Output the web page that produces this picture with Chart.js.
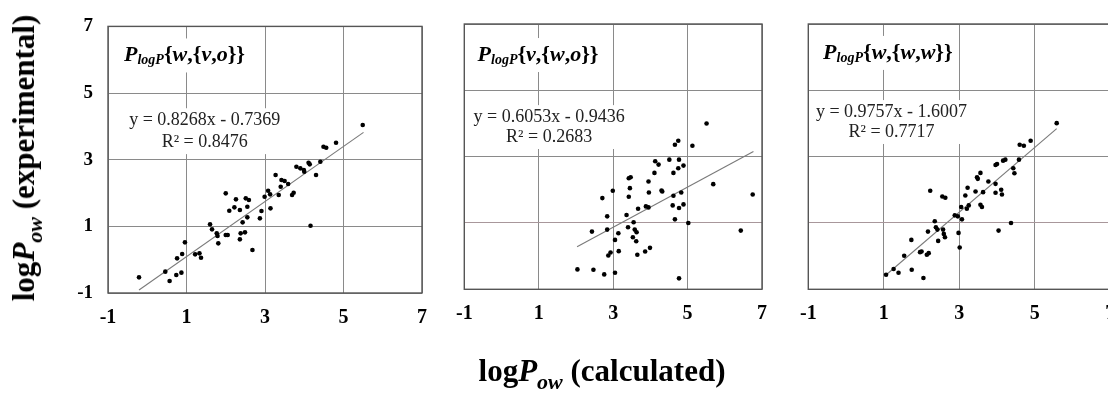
<!DOCTYPE html>
<html><head><meta charset="utf-8">
<script src="https://cdn.jsdelivr.net/npm/chart.js@4.4.1/dist/chart.umd.min.js"></script>
<style>
html,body{margin:0;padding:0;background:#fff;overflow:hidden;}
#wrap{position:relative;width:1108px;height:394px;overflow:hidden;background:#fff;}
canvas{position:absolute;top:0;}
.ttl{position:absolute;font-family:"Liberation Serif","Times New Roman",serif;font-weight:bold;font-size:31px;line-height:31px;color:#000;white-space:nowrap;}
.ttl .sb{font-size:22px;position:relative;top:8px;font-style:italic;}
</style></head><body>
<div id="wrap">
<canvas id="c1"></canvas><canvas id="c2"></canvas><canvas id="c3"></canvas>
<div class="ttl" id="ytitle">log<i>P</i><span class="sb">ow</span> (experimental)</div>
<div class="ttl" id="xtitle">log<i>P</i><span class="sb">ow</span> (calculated)</div>
</div>
<script>
// ---------- data ----------
const xTicks = [-1, 1, 3, 5, 7];
const yTicks = [-1, 1, 3, 5, 7];

const titleVars1 = ['w', 'v', 'o'];
const titleVars2 = ['v', 'w', 'o'];
const titleVars3 = ['w', 'w', 'w'];

const eqText = ['y = 0.8268x - 0.7369', 'y = 0.6053x - 0.9436', 'y = 0.9757x - 1.6007'];
const r2Text = ['R² = 0.8476', 'R² = 0.2683', 'R² = 0.7717'];
const slopes = [0.8268, 0.6053, 0.9757];
const intercepts = [-0.7369, -0.9436, -1.6007];
const trendStart = [-0.21, 2.03, 1.05];
const trendEnd = [5.51, 6.77, 5.58];

const p1x = [-0.21,0.46,0.57,0.74,0.87,0.76,0.89,0.96,1.22,1.33,1.37,1.60,1.65,1.77,1.79,1.81,2.00,2.05,2.00,2.09,2.22,2.26,2.36,2.43,2.36,2.38,2.49,2.51,2.59,2.55,2.55,2.68,2.87,2.91,2.99,3.08,3.13,3.14,3.27,3.35,3.40,3.42,3.50,3.59,3.69,3.73,3.80,3.90,3.99,4.00,4.11,4.14,4.16,4.30,4.41,4.49,4.56,4.81,5.49];
const p1y = [-0.53,-0.36,-0.64,-0.46,-0.39,0.04,0.17,0.52,0.16,0.19,0.06,1.06,0.91,0.79,0.71,0.49,0.74,0.74,1.99,1.47,1.57,1.81,1.49,1.12,0.61,0.79,0.82,1.84,1.79,1.59,1.27,0.29,1.24,1.46,1.89,2.07,1.96,1.54,2.54,1.94,2.19,2.39,2.36,2.27,1.94,2.01,2.79,2.74,2.69,2.64,2.91,2.86,1.02,2.54,2.94,3.39,3.36,3.51,4.04];

const p2x = [5.51,4.66,4.75,5.13,4.13,4.22,4.51,4.77,4.89,4.75,4.62,4.11,3.42,3.47,3.95,3.45,2.99,3.96,4.30,4.32,2.71,3.42,4.62,4.83,3.67,3.88,3.95,4.60,4.77,4.89,2.84,3.36,3.55,4.66,5.02,5.69,6.75,6.43,2.43,2.84,3.14,3.40,3.58,3.63,3.05,3.53,3.62,2.93,2.87,3.15,3.65,3.86,3.99,2.04,2.47,2.76,3.05,4.77];
const p2y = [4.00,3.36,3.48,3.33,2.86,2.76,2.91,2.91,2.73,2.65,2.51,2.51,2.35,2.38,2.25,2.05,1.97,1.92,1.98,1.95,1.75,1.79,1.82,1.92,1.43,1.50,1.47,1.53,1.45,1.56,1.20,1.24,1.02,1.11,1.00,2.17,1.86,0.77,0.74,0.80,0.69,0.87,0.80,0.72,0.49,0.57,0.45,0.11,0.02,0.15,0.04,0.14,0.25,-0.40,-0.41,-0.55,-0.50,-0.67];

const p3x = [5.58,4.89,4.60,4.71,4.58,4.22,4.16,3.96,4.00,4.43,4.46,3.56,3.47,3.49,3.77,3.96,3.22,3.43,3.63,3.16,4.11,4.13,3.96,2.23,2.55,2.63,3.05,3.20,3.25,3.56,3.60,2.88,2.96,3.07,2.35,2.38,2.42,2.57,2.17,2.59,2.62,2.44,2.98,3.01,4.04,4.37,1.73,1.96,2.00,2.14,2.19,1.54,1.26,1.39,1.74,1.06,2.05];
const p3y = [4.01,3.48,3.36,3.33,2.91,2.91,2.88,2.75,2.78,2.65,2.50,2.51,2.38,2.33,2.25,2.18,2.06,1.95,1.93,1.83,2.00,1.86,1.91,1.97,1.80,1.76,1.48,1.43,1.53,1.55,1.48,1.23,1.20,1.11,1.05,0.87,0.80,0.80,0.74,0.67,0.57,0.46,0.70,0.26,0.77,1.00,0.49,0.12,0.14,0.04,0.09,0.01,-0.39,-0.50,-0.41,-0.56,-0.66];

// ---------- helpers ----------
const SERIF = '"Liberation Serif","Times New Roman",serif';
const pts = (xs, ys) => xs.map((x, i) => ({x: x, y: ys[i]}));
const trend = i => [trendStart[i], trendEnd[i]].map(x => ({x: x, y: slopes[i] * x + intercepts[i]}));

function titleSegments(v) {
  const B = 'bold 22px ' + SERIF, BI = 'italic bold 22px ' + SERIF, S = 'italic bold 14px ' + SERIF;
  return [
    {t: 'P', f: BI, dy: 0}, {t: 'logP', f: S, dy: 5}, {t: '{', f: B, dy: 0},
    {t: v[0], f: BI, dy: 0}, {t: ',{', f: B, dy: 0}, {t: v[1], f: BI, dy: 0},
    {t: ',', f: B, dy: 0}, {t: v[2], f: BI, dy: 0}, {t: '}}', f: B, dy: 0}
  ];
}

const annotPlugin = {
  id: 'annot',
  beforeDatasetsDraw(chart, args, o) {
    const ctx = chart.ctx, a = chart.chartArea;
    const W = a.right - a.left, H = a.bottom - a.top;
    ctx.save();
    const segs = o.segs;
    let tw = 0;
    segs.forEach(s => { ctx.font = s.f; tw += ctx.measureText(s.t).width; });
    const tx = a.left + o.tx * W, ty = a.top + o.ty * H;
    ctx.fillStyle = '#fff';
    ctx.fillRect(tx - 6, ty - 17, tw + 12, 34);
    ctx.fillStyle = '#000';
    ctx.textBaseline = 'middle';
    ctx.textAlign = 'left';
    let cx = tx;
    segs.forEach(s => { ctx.font = s.f; ctx.fillText(s.t, cx, ty + s.dy); cx += ctx.measureText(s.t).width; });
    ctx.font = '18px ' + SERIF;
    const ex = a.left + o.ex * W, e1 = a.top + o.e1 * H, e2 = a.top + o.e2 * H;
    const ew = Math.max(ctx.measureText(o.eq).width, ctx.measureText(o.r2).width);
    ctx.fillStyle = '#fff';
    ctx.fillRect(ex - ew / 2 - 5, e1 - 12, ew + 10, e2 - e1 + 24);
    ctx.fillStyle = '#222';
    ctx.textAlign = 'center';
    ctx.fillText(o.eq, ex, e1);
    ctx.fillText(o.r2, ex, e2);
    ctx.restore();
  },
  afterDraw(chart) {
    const ctx = chart.ctx, a = chart.chartArea;
    ctx.save();
    ctx.strokeStyle = '#555';
    ctx.lineWidth = 1.4;
    ctx.strokeRect(a.left, a.top, a.right - a.left, a.bottom - a.top);
    ctx.restore();
  }
};

function makePanel(id, geo, data, idx, segs, showY, pinkOne) {
  const el = document.getElementById(id);
  el.width = geo.w; el.height = geo.h;
  el.style.left = geo.left + 'px';
  el.style.width = geo.w + 'px'; el.style.height = geo.h + 'px';
  new Chart(el, {
    type: 'scatter',
    data: {
      datasets: [
        {data: data, pointRadius: 2.3, pointBackgroundColor: '#000', pointBorderWidth: 0, showLine: false},
        {data: trend(idx), showLine: true, borderColor: '#7a7a7a', borderWidth: 1.1, pointRadius: 0, fill: false}
      ]
    },
    options: {
      responsive: false, animation: false, events: [],
      layout: {padding: {top: geo.top, right: geo.right, left: 0, bottom: 0}},
      plugins: {
        legend: {display: false}, tooltip: {enabled: false},
        annot: {segs: segs, eq: eqText[idx], r2: r2Text[idx], tx: geo.tx, ty: geo.ty, ex: geo.ex, e1: geo.e1, e2: geo.e2}
      },
      scales: {
        x: {
          type: 'linear', min: -1, max: 7,
          afterBuildTicks: ax => { ax.ticks = xTicks.map(v => ({value: v})); },
          afterFit: ax => { ax.height = geo.xh; },
          grid: {color: '#8a8a8a', lineWidth: 1, drawTicks: false},
          border: {display: false},
          ticks: {color: '#000', padding: 13, font: {family: SERIF, size: 20, weight: 'bold'}, maxRotation: 0}
        },
        y: {
          type: 'linear', min: -1, max: 7,
          afterBuildTicks: ax => { ax.ticks = yTicks.map(v => ({value: v})); },
          afterFit: ax => { ax.width = geo.yw; },
          grid: {color: c => (pinkOne && c.tick && c.tick.value === 1) ? '#a8979b' : '#8a8a8a', lineWidth: 1, drawTicks: false},
          border: {display: false},
          ticks: {display: showY, color: '#000', padding: 15, font: {family: SERIF, size: 19, weight: 'bold'}}
        }
      }
    },
    plugins: [annotPlugin]
  });
}

makePanel('c1', {left: 0, w: 440, h: 345, top: 26, right: 17, yw: 108, xh: 52, tx: 0.051, ty: 0.109, ex: 0.308, e1: 0.352, e2: 0.434},
  pts(p1x, p1y), 0, titleSegments(titleVars1), true, false);
makePanel('c2', {left: 430, w: 350, h: 345, top: 24, right: 14.7, yw: 34.3, xh: 55.7, tx: 0.0445, ty: 0.117, ex: 0.285, e1: 0.351, e2: 0.426},
  pts(p2x, p2y), 1, titleSegments(titleVars2), false, true);
makePanel('c3', {left: 775, w: 360, h: 345, top: 24, right: 24.7, yw: 33.3, xh: 55.7, tx: 0.049, ty: 0.109, ex: 0.2755, e1: 0.332, e2: 0.407},
  pts(p3x, p3y), 2, titleSegments(titleVars3), false, true);

const yt = document.getElementById('ytitle');
yt.style.left = '25px'; yt.style.top = '158px';
yt.style.transform = 'translate(-50%,-50%) rotate(-90deg)';
const xt = document.getElementById('xtitle');
xt.style.left = '602px'; xt.style.top = '372px';
xt.style.transform = 'translate(-50%,-50%)';
</script>
</body></html>
